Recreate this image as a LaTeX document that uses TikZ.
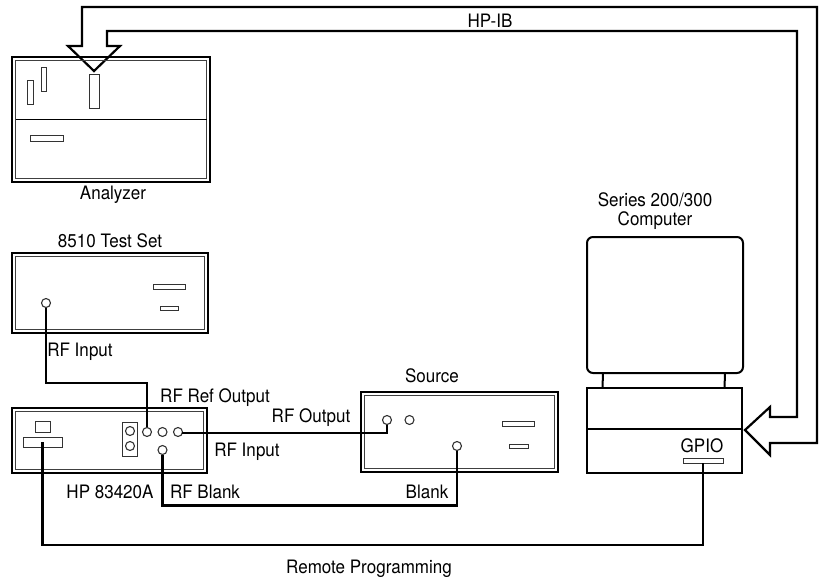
\documentclass[tikz,border=0pt]{standalone}
\usepackage{fontspec}
\setmainfont[FakeStretch=0.92]{TeX Gyre Heros}
\begin{document}
\begin{tikzpicture}[x=1pt,y=-1pt,
  dev/.style={draw, line width=2.8pt, inner sep=0pt, outer sep=0pt,
    path picture={\draw[line width=0.8pt, black!75]
      ([shift={(3.4pt,-3.4pt)}]path picture bounding box.north west) rectangle
      ([shift={(-3.4pt,3.4pt)}]path picture bounding box.south east);}},
  knob/.style={circle, draw, line width=1.1pt, black!80, minimum size=9pt, inner sep=0pt},
  slot/.style={draw, line width=0.9pt, black!80, inner sep=0pt},
  wire/.style={line width=2.5pt},
  lbl/.style={font=\fontsize{18.5}{20}\selectfont, inner sep=0pt, text height=13pt, text depth=0pt},
  unit/.style={draw, line width=2pt, inner sep=0pt, outer sep=0pt}
]
\useasboundingbox (0,0) rectangle (819,578);

% HP-IB bus arrow
\draw[line width=2.2pt, line join=miter]
  (82,7) -- (817,7) -- (817,443) -- (770,443) -- (770,455) -- (745,430)
  -- (770,407) -- (770,417) -- (797,417) -- (797,31) -- (107,31) -- (107,46)
  -- (120,46) -- (94,71) -- (68,46) -- (82,46) -- cycle;
\node[lbl] (hpib) at (490,21) {HP-IB};

% Analyzer
\node[dev, minimum width=198pt, minimum height=125pt] (analyzer) at (111,119.5) {};
\draw[line width=0.9pt] (15.5,119) -- (206.5,119);
\node[slot, minimum width=6pt, minimum height=24pt] (a1) at (30,92) {};
\node[slot, minimum width=5pt, minimum height=24pt] (a2) at (43.5,79) {};
\node[slot, minimum width=10pt, minimum height=34pt] (a3) at (94,91) {};
\node[slot, minimum width=33pt, minimum height=6pt] (a4) at (46.5,138) {};
\node[lbl] (analyzerlbl) at (113,193) {Analyzer};

% Test set
\node[lbl] (tslbl) at (110,241) {8510 Test Set};
\node[dev, minimum width=196pt, minimum height=80pt] (testset) at (110,293) {};
\node[knob] (tsin) at (46,303) {};
\node[slot, minimum width=32pt, minimum height=5pt] (ts1) at (169,286.5) {};
\node[slot, minimum width=18pt, minimum height=4pt] (ts2) at (169,308) {};
\node[lbl] (rfinlbl1) at (80,350) {RF Input};

% HP 83420A
\node[dev, minimum width=195pt, minimum height=65pt] (hp) at (109.5,440.5) {};
\node[slot, minimum width=15pt, minimum height=11pt] (hpsq) at (42.5,426.5) {};
\node[slot, minimum width=39pt, minimum height=10pt] (hplong) at (42.5,442) {};
\node[slot, minimum width=15pt, minimum height=34pt] (hppanel) at (130,439) {};
\node[knob] (hpp1) at (130,431) {};
\node[knob] (hpp2) at (130,446) {};
\node[knob] (hpref) at (147,432) {};
\node[knob] (hpmid) at (162.5,432) {};
\node[knob] (hprfin) at (178,432) {};
\node[knob] (hpblank) at (162.5,450) {};
\node[lbl] (reflbl) at (215,396) {RF Ref Output};
\node[lbl] (rfoutlbl) at (311,416) {RF Output};
\node[lbl] (rfinlbl2) at (247,450) {RF Input};
\node[lbl] (hplbl) at (110,492) {HP 83420A};
\node[lbl] (blanklbl1) at (205,492) {RF Blank};

% Source
\node[lbl] (srclbl) at (432,376) {Source};
\node[dev, minimum width=197pt, minimum height=80pt] (source) at (459.5,432) {};
\node[knob] (srcout) at (387,420) {};
\node[knob] (src2) at (409.5,420) {};
\node[knob] (srcblank) at (457,446) {};
\node[slot, minimum width=32pt, minimum height=5pt] (src3) at (518,423.5) {};
\node[slot, minimum width=19pt, minimum height=4pt] (src4) at (518.5,446) {};
\node[lbl] (blanklbl2) at (427,492) {Blank};

% Computer
\node[lbl] (serieslbl) at (655,200) {Series 200/300};
\node[lbl] (complbl) at (655,219) {Computer};
\node[unit, rounded corners=6pt, minimum width=156pt, minimum height=136pt] (monitor) at (665,305) {};
\node[unit, minimum width=155pt, minimum height=85pt] (base) at (664.5,430.5) {};
\draw[line width=2pt] ([xshift=-62pt]monitor.south) -- ([xshift=-62pt]base.north);
\draw[line width=2pt] ([xshift=60pt]monitor.south) -- ([xshift=60pt]base.north);
\draw[line width=2pt] ([yshift=1.5pt]base.west) -- ([yshift=1.5pt]base.east);
\node[lbl] (gpiolbl) at (702,446) {GPIO};
\node[slot, minimum width=40pt, minimum height=5pt] (gpio) at (703,460.5) {};

% Cables
\draw[wire] (tsin.south) -- ++(0,75) -| (hpref.north);
\draw[wire] (hprfin.east) -- ++(0,1) -| (srcout.south);
\draw[wire] (hpblank.south) -- ++(0,50.5) -| (srcblank.south);
\draw[wire] (hplong.center) -- ++(0,103) -| (gpio.south);
\node[lbl] (remotelbl) at (369,567) {Remote Programming};
\end{tikzpicture}
\end{document}
